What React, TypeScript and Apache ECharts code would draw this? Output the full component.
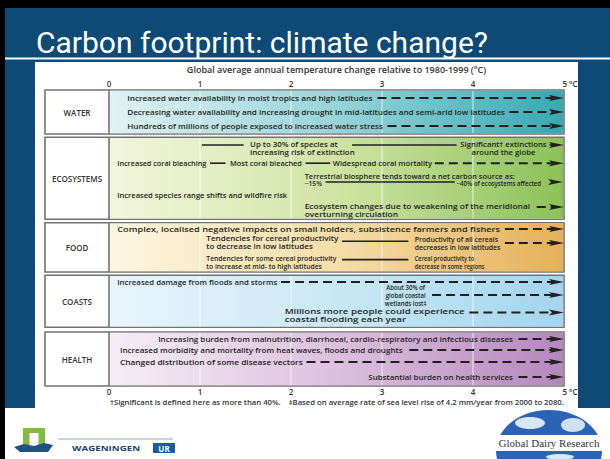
import React, { useEffect, useRef } from 'react';
import * as echarts from 'echarts';

const slideTitle = 'Carbon footprint: climate change?';
const axisTitle = 'Global average annual temperature change relative to 1980-1999 (°C)';
const xTickLabels = ['0', '1', '2', '3', '4', '5 °C'];
const footnote = '†Significant is defined here as more than 40%.    ‡Based on average rate of sea level rise of 4.2 mm/year from 2000 to 2080.';

const sectionNames = ['WATER', 'ECOSYSTEMS', 'FOOD', 'COASTS', 'HEALTH'];
const sectionTop = [0, 11.8, 33.2, 46.3, 60.5];
const sectionBottom = [11, 32.3, 45.5, 59.3, 74];

// text items: [from °C, to °C, row, label, align]
type T = [number, number, number, string, string];
// line items: [from °C, to °C, row, dashed, arrow]
type L = [number, number, number, number, number];

const waterTexts: T[] = [
  [0.2, 2.9, 2, 'Increased water availability in moist tropics and high latitudes', 'l'],
  [0.2, 4.35, 5.5, 'Decreasing water availability and increasing drought in mid-latitudes and semi-arid low latitudes', 'l'],
  [0.2, 3.01, 9, 'Hundreds of millions of people exposed to increased water stress', 'l'],
];
const waterLines: L[] = [
  [2.95, 5, 2, 1, 1],
  [4.4, 5, 5.5, 1, 1],
  [3.06, 5, 9, 1, 1],
];

const ecoTexts: T[] = [
  [1.55, 2.7, 14.5, 'Up to 30% of species at\nincreasing risk of extinction', 'l'],
  [3.86, 4.81, 14.5, 'Significant† extinctions\naround the globe', 'c'],
  [0.09, 1.07, 18.3, 'Increased coral bleaching', 'l'],
  [1.33, 2.12, 18.3, 'Most coral bleached', 'l'],
  [2.46, 3.55, 18.3, 'Widespread coral mortality', 'l'],
  [2.15, 4.46, 21.4, 'Terrestrial biosphere tends toward a net carbon source as:', 'l'],
  [2.15, 2.34, 23.3, '~15%', 'l'],
  [3.82, 4.75, 23.2, '~40% of ecosystems affected', 'l'],
  [0.09, 1.96, 26.3, 'Increased species range shifts and wildfire risk', 'l'],
  [2.15, 4.63, 30, 'Ecosystem changes due to weakening of the meridional\noverturning circulation', 'l'],
];
const ecoLines: L[] = [
  [1.02, 1.48, 13.75, 0, 0],
  [2.67, 3.82, 13.75, 0, 0],
  [4.84, 5, 13.75, 0, 1],
  [1.11, 1.28, 18.3, 0, 0],
  [2.16, 2.43, 18.3, 0, 0],
  [3.58, 5, 18.3, 1, 1],
  [2.38, 3.8, 23, 0, 0],
  [4.86, 4.99, 23, 0, 1],
  [4.7, 5, 29.25, 1, 1],
];

const foodTexts: T[] = [
  [0.09, 4.3, 34.75, 'Complex, localised negative impacts on small holders, subsistence farmers and fishers', 'l'],
  [1.07, 2.52, 38, 'Tendencies for cereal productivity\nto decrease in low latitudes', 'l'],
  [3.36, 4.3, 38.25, 'Productivity of all cereals\ndecreases in low latitudes', 'l'],
  [1.07, 2.5, 43, 'Tendencies for some cereal productivity\nto increase at mid- to high latitudes', 'l'],
  [3.36, 4.1, 43, 'Cereal productivity to\ndecrease in some regions', 'l'],
];
const foodLines: L[] = [
  [4.35, 5, 34.75, 1, 1],
  [2.56, 3.29, 37.8, 0, 0],
  [4.35, 5, 38.25, 1, 1],
  [2.56, 3.29, 42.4, 0, 0],
];

const coastTexts: T[] = [
  [0.09, 1.85, 48, 'Increased damage from floods and storms', 'l'],
  [3.03, 3.49, 51.25, 'About 30% of\nglobal coastal\nwetlands lost‡', 'c'],
  [1.93, 3.91, 56.25, 'Millions more people could experience\ncoastal flooding each year', 'l'],
];
const coastLines: L[] = [
  [1.89, 5, 48, 1, 1],
  [3.55, 5, 51.25, 1, 1],
  [3.96, 5, 55.6, 1, 1],
];

const healthTexts: T[] = [
  [0.54, 4.44, 62.25, 'Increasing burden from malnutrition, diarrhoeal, cardio-respiratory and infectious diseases', 'l'],
  [0.12, 3.23, 65, 'Increased morbidity and mortality from heat waves, floods and droughts', 'l'],
  [0.12, 2.13, 68, 'Changed distribution of some disease vectors', 'l'],
  [2.85, 4.44, 71.75, 'Substantial burden on health services', 'l'],
];
const healthLines: L[] = [
  [4.5, 5, 62.25, 1, 1],
  [3.3, 5, 65, 1, 1],
  [2.17, 5, 68, 1, 1],
  [4.5, 5, 71.75, 1, 1],
];

const sectionColors = [
  ['#e0f2f3', '#97d4d8', '#38a8b3'],
  ['#f3f6dc', '#d0e4a5', '#8cc158'],
  ['#fdf6e2', '#f5dea8', '#e5b05a'],
  ['#e9f5fc', '#c9e8f6', '#a3d5ee'],
  ['#f6eef6', '#dcc0de', '#b487bc'],
];

const FONT = "'Open Sans', 'Noto Sans', sans-serif";
const INK = '#231f20';
const BASE = 7.6;

export default function App() {
  const ref = useRef<HTMLDivElement>(null);
  useEffect(() => {
    document.body.style.margin = '0';
    const chart = echarts.init(ref.current!, undefined, { renderer: 'svg' });
    const allTexts = [...waterTexts, ...ecoTexts, ...foodTexts, ...coastTexts, ...healthTexts];
    const allLines = [...waterLines, ...ecoLines, ...foodLines, ...coastLines, ...healthLines];

    const ctx = document.createElement('canvas').getContext('2d')!;
    const measure = (text: string, size: number) => {
      ctx.font = `600 ${size}px 'Open Sans', 'Noto Sans', sans-serif`;
      return Math.max(...text.split('\n').map((s) => ctx.measureText(s).width));
    };

    const axisCommon = {
      type: 'value',
      min: 0,
      max: 5,
      interval: 1,
      gridIndex: 0,
      z: 5,
      axisLine: { show: false },
      axisTick: { show: false },
      splitLine: { show: false },
    };
    const labelFmt = (v: number) => (v === 5 ? '{f|' + xTickLabels[v] + '}' : xTickLabels[v]);
    const labelStyle = {
      fontSize: 8,
      fontWeight: 600,
      fontFamily: FONT,
      color: '#333',
      formatter: labelFmt,
      rich: { f: { fontSize: 8, fontWeight: 600, fontFamily: FONT, color: '#333', padding: [0, 0, 0, 12] } },
    };

    chart.setOption({
      animation: false,
      backgroundColor: '#ffffff',
      grid: { left: 109, top: 90, width: 455, height: 296 },
      xAxis: [
        { ...axisCommon, position: 'bottom', axisLabel: { ...labelStyle, margin: 1 } },
        {
          ...axisCommon,
          position: 'top',
          axisLabel: { ...labelStyle, margin: 3 },
          name: axisTitle,
          nameLocation: 'middle',
          nameGap: 13,
          nameTextStyle: { fontSize: 9, fontWeight: 600, fontFamily: FONT, color: '#333' },
        },
      ],
      yAxis: { type: 'value', inverse: true, min: 0, max: 74, show: false },
      graphic: [
        { type: 'rect', z: -10, shape: { x: 0, y: 0, width: 610, height: 8 }, style: { fill: '#000' } },
        { type: 'rect', z: -10, shape: { x: 0, y: 0, width: 5, height: 459 }, style: { fill: '#000' } },
        { type: 'rect', z: -10, shape: { x: 5, y: 8, width: 605, height: 400 }, style: { fill: '#0e4a76' } },
        { type: 'rect', z: -9, shape: { x: 5, y: 57.5, width: 605, height: 2 }, style: { fill: '#ffffff' } },
        { type: 'rect', z: -9, shape: { x: 35, y: 62, width: 543, height: 346 }, style: { fill: '#ffffff' } },
        {
          type: 'text', z: -8, x: 36, y: 42,
          style: { text: slideTitle, fontSize: 30, fontFamily: 'Roboto, sans-serif', fill: '#ffffff', verticalAlign: 'middle' },
        },
        {
          type: 'text', z: -8, x: 110, y: 402,
          style: { text: footnote, fontSize: 7.7, fontWeight: 600, fontFamily: FONT, fill: '#333', verticalAlign: 'middle' },
        },
        // Wageningen UR logo
        { type: 'rect', z: -8, shape: { x: 23, y: 428, width: 22, height: 17 }, style: { fill: '#86b940' } },
        { type: 'rect', z: -8, shape: { x: 29.5, y: 433, width: 9, height: 12 }, style: { fill: '#ffffff' } },
        {
          type: 'polygon', z: -8,
          shape: { points: [[14, 447], [24, 444], [34, 446], [44, 443], [53, 445], [48, 452], [20, 452]] },
          style: { fill: '#1d5282' },
        },
        { type: 'line', z: -8, shape: { x1: 58, y1: 439, x2: 173, y2: 439 }, style: { stroke: '#9aa5b1', lineWidth: 1 } },
        {
          type: 'text', z: -8, x: 72, y: 448, scaleX: 1.3,
          style: { text: 'WAGENINGEN', fontSize: 7.5, fontWeight: 700, fontFamily: FONT, fill: '#1d3f6e', verticalAlign: 'middle' },
        },
        { type: 'rect', z: -8, shape: { x: 153, y: 443, width: 22, height: 10 }, style: { fill: '#2058a8' } },
        {
          type: 'text', z: -7, x: 164, y: 448,
          style: { text: 'UR', fontSize: 8, fontWeight: 700, fontFamily: FONT, fill: '#ffffff', align: 'center', verticalAlign: 'middle' },
        },
        // Global Dairy Research logo
        { type: 'ellipse', z: -8, shape: { cx: 549, cy: 451, rx: 53, ry: 41 }, style: { fill: '#2d63b5' } },
        { type: 'ellipse', z: -8, shape: { cx: 530, cy: 423, rx: 15, ry: 6 }, style: { fill: '#d8e6f5' } },
        { type: 'ellipse', z: -8, shape: { cx: 573, cy: 425, rx: 12, ry: 7 }, style: { fill: '#cfe0f2' } },
        { type: 'ellipse', z: -8, shape: { cx: 560, cy: 457, rx: 14, ry: 3 }, style: { fill: '#d8e6f5' } },
        { type: 'rect', z: -7, shape: { x: 496, y: 435, width: 107, height: 16 }, style: { fill: '#ffffff' } },
        {
          type: 'text', z: -6, x: 549, y: 443,
          style: { text: 'Global Dairy Research', fontSize: 11, fontFamily: "'Liberation Serif', serif", fill: '#333', align: 'center', verticalAlign: 'middle' },
        },
      ],
      series: [
        {
          type: 'custom',
          z: 2,
          xAxisIndex: 0,
          yAxisIndex: 0,
          encode: { y: [0, 1] },
          data: sectionNames.map((_, i) => [sectionTop[i], sectionBottom[i], i]),
          renderItem: (params: any, api: any) => {
            const i = api.value(2);
            const tl = api.coord([0, api.value(0)]);
            const br = api.coord([5, api.value(1)]);
            const lw = 64;
            const c = sectionColors[i];
            const grad = new echarts.graphic.LinearGradient(0, 0, 1, 0, [
              { offset: 0, color: c[0] },
              { offset: 0.5, color: c[1] },
              { offset: 1, color: c[2] },
            ]);
            const children: any[] = [
              {
                type: 'rect',
                shape: { x: tl[0] - lw, y: tl[1], width: br[0] - tl[0] + lw, height: br[1] - tl[1] },
                style: { fill: '#ffffff', stroke: '#727272', lineWidth: 1.6 },
              },
              {
                type: 'rect',
                shape: { x: tl[0], y: tl[1] + 0.8, width: br[0] - tl[0] - 0.8, height: br[1] - tl[1] - 1.6 },
                style: { fill: grad },
              },
              {
                type: 'line',
                shape: { x1: tl[0], y1: tl[1], x2: tl[0], y2: br[1] },
                style: { stroke: '#727272', lineWidth: 1.6 },
              },
            ];
            for (let k = 1; k < 5; k++) {
              const p = api.coord([k, 0]);
              children.push({
                type: 'line',
                shape: { x1: p[0], y1: tl[1] + 1, x2: p[0], y2: br[1] - 1 },
                style: { stroke: 'rgba(255,255,255,0.75)', lineWidth: 1 },
              });
            }
            children.push({
              type: 'text',
              x: tl[0] - lw / 2,
              y: (tl[1] + br[1]) / 2,
              style: {
                text: sectionNames[i], fontSize: 8, fontWeight: 600, fontFamily: FONT, fill: '#333',
                align: 'center', verticalAlign: 'middle',
              },
            });
            return { type: 'group', children };
          },
        },
        {
          type: 'custom',
          z: 3,
          encode: { x: [0, 1], y: 2 },
          data: allLines,
          renderItem: (params: any, api: any) => {
            const a = api.coord([api.value(0), api.value(2)]);
            const b = api.coord([api.value(1), api.value(2)]);
            const dashed = api.value(3) === 1;
            const arrow = api.value(4) === 1;
            const endX = arrow ? b[0] - 11 : b[0];
            const children: any[] = [];
            if (endX > a[0]) {
              children.push({
                type: 'line',
                shape: { x1: a[0], y1: a[1], x2: endX, y2: a[1] },
                style: { stroke: INK, lineWidth: dashed ? 2 : 1.6, lineDash: dashed ? [9, 5] : null },
              });
            }
            if (arrow) {
              children.push({
                type: 'polygon',
                shape: { points: [[b[0] - 15, a[1] - 3], [b[0], a[1]], [b[0] - 15, a[1] + 3], [b[0] - 12, a[1]]] },
                style: { fill: INK },
              });
            }
            return { type: 'group', children };
          },
        },
        {
          type: 'custom',
          z: 4,
          encode: { x: [0, 1], y: 2 },
          data: allTexts.map((t, i) => [t[0], t[1], t[2], i]),
          renderItem: (params: any, api: any) => {
            const t = allTexts[api.value(3)];
            const a = api.coord([api.value(0), api.value(2)]);
            const b = api.coord([api.value(1), api.value(2)]);
            const target = b[0] - a[0];
            const sx = Math.min(1.3, Math.max(0.75, target / measure(t[3], BASE)));
            const centered = t[4] === 'c';
            return {
              type: 'text',
              x: centered ? (a[0] + b[0]) / 2 : a[0],
              y: a[1],
              scaleX: sx,
              style: {
                text: t[3],
                fontSize: BASE,
                lineHeight: BASE + 0.2,
                fontWeight: 600,
                fontFamily: FONT,
                fill: INK,
                align: centered ? 'center' : 'left',
                verticalAlign: 'middle',
              },
            };
          },
        },
      ],
    });
    return () => chart.dispose();
  }, []);
  return <div ref={ref} style={{ width: 610, height: 459 }} />;
}
